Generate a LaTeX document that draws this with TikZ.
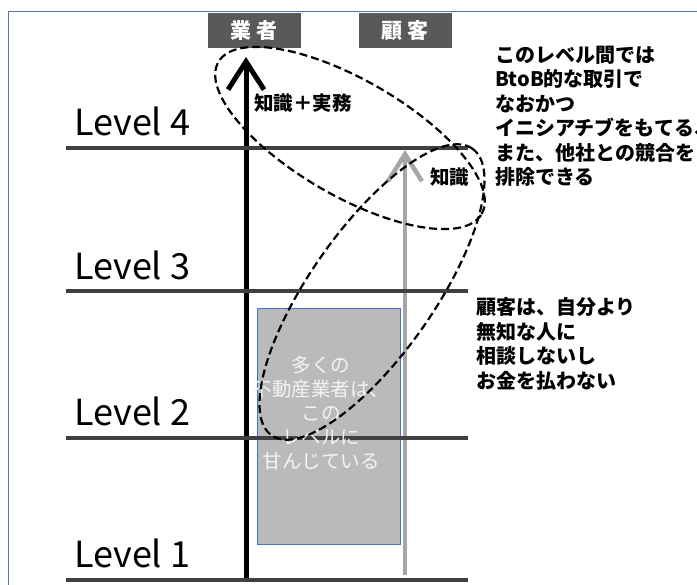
\documentclass[tikz,border=0pt]{standalone}
\usepackage{fontspec}
\setmainfont{Noto Sans CJK JP}
\usetikzlibrary{arrows.meta,shapes.geometric}
\definecolor{levelgray}{HTML}{404040}
\definecolor{boxdark}{HTML}{595959}
\definecolor{arrowgray}{HTML}{A6A6A6}
\definecolor{fillgray}{HTML}{BABABA}
\definecolor{frameblue}{HTML}{5575B0}
\definecolor{boxblue}{HTML}{4472C4}
\definecolor{softwhite}{HTML}{F4F4F4}
\begin{document}
\begin{tikzpicture}[x=1pt,y=-1pt,
  levelline/.style={draw=levelgray,line width=4pt},
  levellabel/.style={anchor=west,inner sep=0pt,font=\fontsize{36}{40}\selectfont},
  tagbox/.style={fill=boxdark,text=white,minimum width=93pt,minimum height=35pt,inner sep=0pt,font=\bfseries\fontsize{21}{24}\selectfont},
  note/.style={anchor=west,inner sep=0pt,align=left,font=\bfseries\fontsize{20}{24.5}\selectfont},
  zone/.style={draw=black,ellipse,inner sep=0pt,line width=2.2pt,dash pattern=on 8pt off 4pt},
  mainarrow/.style={line width=5pt,-{Straight Barb[length=28pt,width=36pt]}},
  custarrow/.style={draw=arrowgray,line width=4.5pt,-{Straight Barb[length=27pt,width=34pt]}}
]
\clip (0,0) rectangle (697,585);
% frame
\draw[frameblue,line width=0.8pt] (8.5,11) rectangle (760,640);

% gray box
\node[draw=boxblue,line width=0.7pt,fill=fillgray,minimum width=143pt,minimum height=236pt,anchor=north west,inner sep=0pt] (stuck) at (257,308) {};

% arrows
\coordinate (vb) at (246,580);
\coordinate (vt) at (246,57);
\coordinate (cb) at (405,575);
\coordinate (ct) at (405,150);
\draw[custarrow] (cb) -- (ct);
\draw[mainarrow] (vb) -- (vt);

% level lines
\coordinate (l4a) at (66,148); \coordinate (l4b) at (468,148);
\coordinate (l3a) at (66,291); \coordinate (l3b) at (468,291);
\coordinate (l2a) at (66,438); \coordinate (l2b) at (468,438);
\coordinate (l1a) at (66,580); \coordinate (l1b) at (468,580);
\draw[levelline] (l4a) -- (l4b);
\draw[levelline] (l3a) -- (l3b);
\draw[levelline] (l2a) -- (l2b);
\draw[levelline] (l1a) -- (l1b);

% level labels
\node[levellabel] (lv4) at (74,121) {Level 4};
\node[levellabel] (lv3) at (74,265) {Level 3};
\node[levellabel] (lv2) at (74,411) {Level 2};
\node[levellabel] (lv1) at (74,553) {Level 1};

% text in gray box
\node[align=center,inner sep=0pt,text=softwhite,font=\fontsize{19.5}{24}\selectfont] (stucktext) at (321,413) {多くの\\不動産業者は、\\この\\レベルに\\甘んじている};

% header boxes
\node[tagbox] (gyosha) at (254,31) {業 者};
\node[tagbox] (kokyaku) at (405,31) {顧 客};

% dashed zones
\node[zone,minimum width=304pt,minimum height=116pt,rotate=-30] (zone1) at (350,138) {};
\node[zone,minimum width=350pt,minimum height=124pt,rotate=55] (zone2) at (372,292) {};

% labels on arrows
\node[anchor=west,inner sep=0pt,font=\bfseries\fontsize{19.5}{22}\selectfont] (kj) at (254,103) {知識＋実務};
\node[anchor=west,inner sep=0pt,font=\bfseries\fontsize{19.5}{22}\selectfont] (k) at (430,177) {知識};

% notes
\node[note] (note1) at (495,116.5) {このレベル間では\\BtoB的な取引で\\なおかつ\\イニシアチブをもてる、\\また、他社との競合を\\排除できる};
\node[note] (note2) at (476,344) {顧客は、自分より\\無知な人に\\相談しないし\\お金を払わない};
\end{tikzpicture}
\end{document}
